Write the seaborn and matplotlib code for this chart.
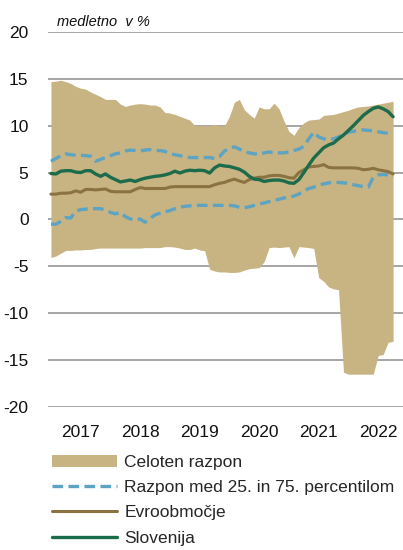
import numpy as np
import pandas as pd
import matplotlib
matplotlib.use("Agg")
import matplotlib.pyplot as plt
import seaborn as sns

# monthly data, Jan 2017 - Oct 2022 (month index 0..69)
years = ["2017", "2018", "2019", "2020", "2021", "2022"]

range_max = [14.7, 14.75, 14.85, 14.7, 14.5, 14.2, 14.0, 13.9, 13.6, 13.35,
             13.1, 12.8, 12.8, 12.8, 12.3, 12.05, 12.2, 12.3, 12.35, 12.3,
             12.2, 12.2, 12.0, 11.4, 11.35, 11.2, 11.0, 10.8, 10.6, 10.0,
             10.0, 10.0, 10.0, 10.15, 10.0, 10.0, 11.0, 12.5, 12.8, 11.7,
             11.2, 10.8, 12.0, 11.8, 11.8, 12.4, 11.8, 10.5, 9.4, 8.97,
             9.8, 10.3, 10.6, 10.65, 10.7, 11.1, 11.15, 11.2, 11.35, 11.5,
             11.65, 11.85, 12.0, 12.05, 12.1, 12.2, 12.3, 12.4, 12.5, 12.6]

range_min = [-4.05, -3.9, -3.6, -3.3, -3.3, -3.25, -3.25, -3.2, -3.2, -3.1,
             -3.05, -3.05, -3.05, -3.05, -3.05, -3.05, -3.05, -3.05, -3.05, -3.0,
             -3.0, -3.0, -3.0, -2.9, -2.9, -2.95, -3.05, -3.2, -3.2, -3.05,
             -3.25, -3.35, -5.3, -5.5, -5.6, -5.6, -5.65, -5.65, -5.6, -5.4,
             -5.25, -5.2, -5.15, -4.5, -3.0, -2.95, -3.0, -2.95, -2.9, -4.1,
             -2.9, -2.95, -3.0, -3.1, -6.2, -6.6, -7.2, -7.4, -7.5, -16.3,
             -16.5, -16.5, -16.5, -16.5, -16.5, -16.5, -14.5, -14.4, -13.1, -13.0]

p75 = [6.2, 6.5, 6.8, 7.0, 6.9, 6.85, 6.85, 6.8, 6.75, 6.2,
       6.4, 6.6, 6.8, 7.0, 7.1, 7.3, 7.4, 7.35, 7.3, 7.4,
       7.45, 7.35, 7.35, 7.25, 7.0, 6.9, 6.8, 6.7, 6.6, 6.6,
       6.6, 6.6, 6.6, 6.5, 6.7, 7.3, 7.6, 7.75, 7.5, 7.2,
       7.1, 7.0, 6.95, 7.1, 7.2, 7.1, 7.1, 7.1, 7.2, 7.35,
       7.5, 7.8, 8.6, 9.3, 8.8, 8.6, 8.5, 8.6, 8.8, 9.1,
       9.3, 9.4, 9.5, 9.55, 9.5, 9.45, 9.35, 9.25, 9.2, 9.2]

p25 = [-0.5, -0.5, -0.2, 0.2, 0.15, 0.9, 1.05, 1.1, 1.15, 1.15,
       1.15, 1.0, 0.75, 0.6, 0.75, 0.3, 0.05, -0.05, 0.05, -0.3,
       0.1, 0.5, 0.65, 0.8, 0.95, 1.15, 1.3, 1.4, 1.45, 1.5,
       1.5, 1.5, 1.5, 1.5, 1.5, 1.5, 1.5, 1.45, 1.3, 1.25,
       1.35, 1.5, 1.65, 1.75, 1.9, 2.05, 2.15, 2.3, 2.35, 2.5,
       2.7, 3.05, 3.3, 3.45, 3.6, 3.8, 3.9, 3.95, 3.95, 3.9,
       3.85, 3.7, 3.6, 3.5, 3.45, 4.5, 4.75, 4.8, 4.75, 4.5]

euro_area = [2.7, 2.7, 2.8, 2.8, 2.85, 3.05, 2.9, 3.2, 3.2, 3.15,
             3.2, 3.25, 3.0, 2.95, 2.95, 2.95, 2.95, 3.2, 3.4, 3.3,
             3.3, 3.3, 3.3, 3.3, 3.45, 3.5, 3.5, 3.5, 3.5, 3.5,
             3.5, 3.5, 3.5, 3.7, 3.85, 3.95, 4.15, 4.3, 4.1, 3.95,
             4.25, 4.4, 4.5, 4.5, 4.65, 4.7, 4.7, 4.6, 4.45, 4.4,
             5.0, 5.3, 5.6, 5.65, 5.7, 5.85, 5.55, 5.5, 5.5, 5.5,
             5.5, 5.5, 5.45, 5.3, 5.35, 5.45, 5.3, 5.2, 5.1, 4.85]

slovenia = [4.9, 4.85, 5.15, 5.2, 5.2, 5.05, 5.0, 5.2, 5.2, 4.85,
            4.6, 4.85, 4.5, 4.25, 4.0, 4.1, 4.2, 4.05, 4.25, 4.4,
            4.5, 4.6, 4.65, 4.75, 4.9, 5.15, 4.95, 5.15, 5.25, 5.2,
            5.25, 5.2, 4.95, 5.5, 5.8, 5.7, 5.65, 5.5, 5.35, 5.05,
            4.6, 4.3, 4.25, 4.05, 4.15, 4.2, 4.2, 4.1, 3.9, 3.85,
            4.25, 5.0, 5.8, 6.55, 7.1, 7.65, 7.95, 8.15, 8.6, 9.0,
            9.5, 10.0, 10.55, 11.1, 11.5, 11.85, 12.0, 11.8, 11.5, 10.95]

df = pd.DataFrame({
    "month": np.arange(len(slovenia)),
    "range_max": range_max,
    "range_min": range_min,
    "p25": p25,
    "p75": p75,
    "euro_area": euro_area,
    "slovenia": slovenia,
})

sns.set_style("white")
plt.rcParams["font.family"] = ["Liberation Sans", "DejaVu Sans"]
plt.rcParams["axes.unicode_minus"] = False

BAND = "#C8B482"
DASH = "#5DA3C2"
EA = "#8A7340"
SI = "#1C6B4B"

fig = plt.figure(figsize=(4.03, 5.5), dpi=100)
ax = fig.add_axes([0.119, 0.26, 0.881, 0.682])
ax.set_axisbelow(True)

ax.fill_between(df["month"], df["range_min"], df["range_max"],
                color=BAND, linewidth=0, label="Celoten razpon")
sns.lineplot(data=df, x="month", y="p75", ax=ax, color=DASH, lw=2.4,
             linestyle=(0, (3.2, 1.6)),
             label="Razpon med 25. in 75. percentilom")
sns.lineplot(data=df, x="month", y="p25", ax=ax, color=DASH, lw=2.4,
             linestyle=(0, (3.2, 1.6)), label="_nolegend_")
sns.lineplot(data=df, x="month", y="euro_area", ax=ax, color=EA, lw=2.2,
             label="Evroobmo\u010dje")
sns.lineplot(data=df, x="month", y="slovenia", ax=ax, color=SI, lw=2.4,
             label="Slovenija")

ax.set_xlim(-0.6, 71)
ax.set_ylim(-20, 20)
ax.set_yticks(range(-20, 21, 5))
ax.set_xticks([6 + 12 * k for k in range(len(years))], years)
ax.set_xlabel("")
ax.set_ylabel("")
ax.grid(axis="y", color="#9E9E9E", linewidth=1.3)
ax.grid(axis="x", visible=False)
for s in ax.spines.values():
    s.set_visible(False)
ax.tick_params(axis="y", length=0, pad=14, labelsize=12.5, colors="#111111")
ax.tick_params(axis="x", length=0, pad=13, labelsize=12.5, colors="#111111")

fig.text(0.141, 0.948, "medletno  v %", fontsize=10.5, style="italic",
         color="#111111", ha="left", va="bottom")

handles, labels = ax.get_legend_handles_labels()
ax.get_legend().remove()
fig.legend(handles, labels, loc="upper left", bbox_to_anchor=(0.13, 0.173),
           frameon=False, fontsize=12.5, handlelength=3.7, handletextpad=0.45,
           labelspacing=0.58, borderaxespad=0, borderpad=0)

fig.savefig("out.png", dpi=100)
